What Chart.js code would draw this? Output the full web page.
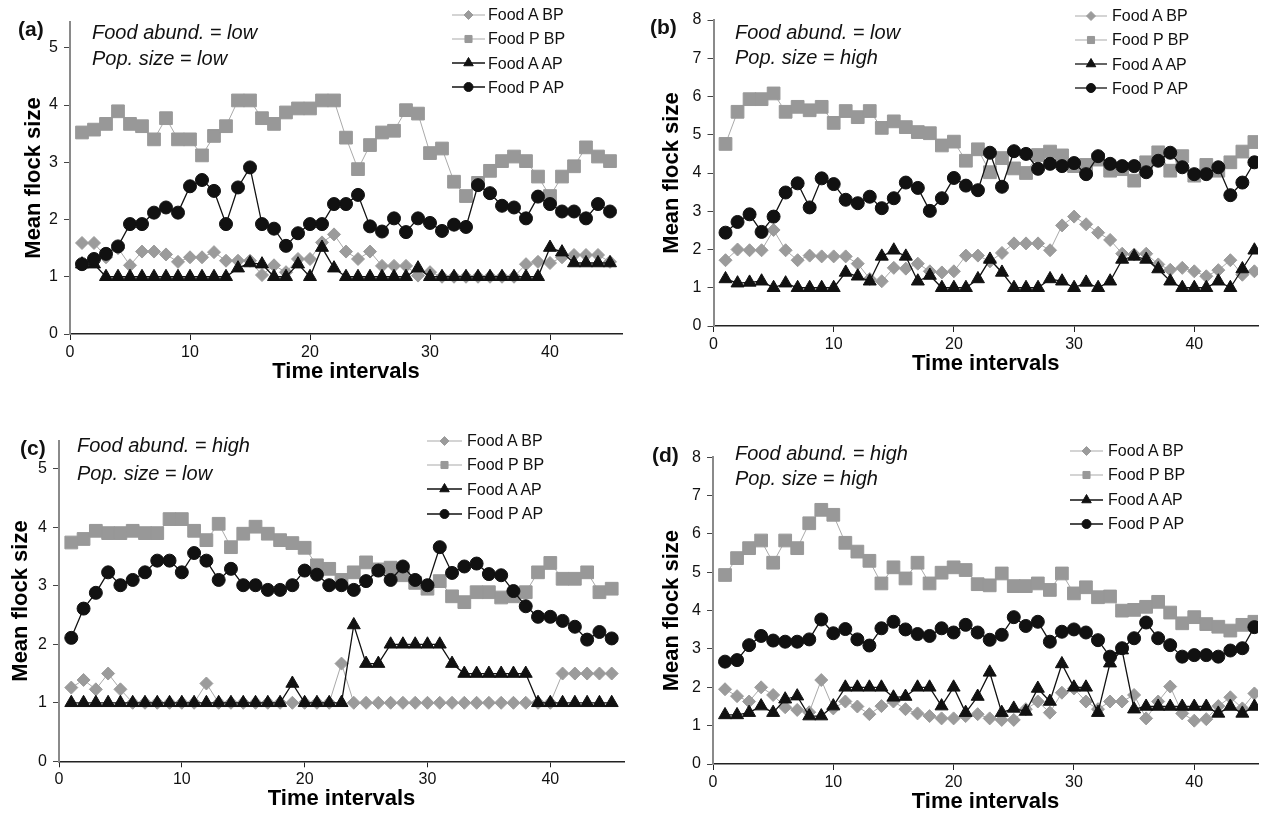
<!DOCTYPE html>
<html>
<head>
<meta charset="utf-8">
<script src="https://cdn.jsdelivr.net/npm/chart.js@4.4.1/dist/chart.umd.min.js"></script>
<style>
  body { margin: 0; background: #fff; width: 1268px; height: 817px; position: relative; overflow: hidden;
         font-family: "Liberation Sans", Arial, sans-serif; color: #111; }
  canvas { position: absolute; }
  .lab { position: absolute; font-weight: bold; font-size: 21px; line-height: 24px; }
  .note { position: absolute; font-style: italic; font-size: 20px; white-space: nowrap; }
  .leg { position: absolute; font-size: 16px; line-height: 24.3px; white-space: nowrap; }
</style>
</head>
<body>
<canvas id="ca" width="634" height="408" style="left:0;top:0"></canvas>
<canvas id="cb" width="634" height="408" style="left:634px;top:0"></canvas>
<canvas id="cc" width="634" height="409" style="left:0;top:408px"></canvas>
<canvas id="cd" width="634" height="409" style="left:634px;top:408px"></canvas>

<div class="lab" style="left:18px;top:17px">(a)</div>
<div class="note" style="left:92px;top:19px;line-height:26px">Food abund. = low<br>Pop. size = low</div>
<div class="leg" style="left:488px;top:3px">Food A BP<br>Food P BP<br>Food A AP<br>Food P AP</div>

<div class="lab" style="left:650px;top:15px">(b)</div>
<div class="note" style="left:735px;top:19.5px;line-height:25px">Food abund. = low<br>Pop. size = high</div>
<div class="leg" style="left:1112px;top:4px">Food A BP<br>Food P BP<br>Food A AP<br>Food P AP</div>

<div class="lab" style="left:20px;top:436px">(c)</div>
<div class="note" style="left:77px;top:431px;line-height:28px">Food abund. = high<br>Pop. size = low</div>
<div class="leg" style="left:467px;top:429px">Food A BP<br>Food P BP<br>Food A AP<br>Food P AP</div>

<div class="lab" style="left:652px;top:443px">(d)</div>
<div class="note" style="left:735px;top:440.5px;line-height:25px">Food abund. = high<br>Pop. size = high</div>
<div class="leg" style="left:1108px;top:439px">Food A BP<br>Food P BP<br>Food A AP<br>Food P AP</div>

<script>
// time intervals 1..45
const intervals = Array.from({length: 45}, (_, i) => i + 1);
const seriesNames = ['Food A BP', 'Food P BP', 'Food A AP', 'Food P AP'];

// (a) food abund. low, pop. size low
const aFoodABP = [1.59,1.59,1.34,1.5,1.2,1.44,1.44,1.39,1.26,1.34, 1.34,1.43,1.28,1.28,1.28,1.03,1.2,1.08,1.31,1.31,
                  1.6,1.74,1.44,1.31,1.44,1.19,1.19,1.19,1.02,1.08, 1,1,1,1,1,1,1,1.22,1.26,1.24, 1.34,1.38,1.38,1.38,1.26];
const aFoodPBP = [3.52,3.57,3.67,3.89,3.67,3.63,3.4,3.77,3.4,3.4, 3.12,3.46,3.63,4.08,4.08,3.77,3.67,3.87,3.94,3.94,
                  4.08,4.08,3.43,2.88,3.3,3.52,3.55,3.91,3.85,3.16, 3.24,2.66,2.41,2.64,2.85,3.02,3.1,3.02,2.75,2.41, 2.75,2.93,3.26,3.1,3.02];
const aFoodAAP = [1.22,1.22,1,1,1,1,1,1,1,1, 1,1,1,1.15,1.24,1.22,1,1,1.22,1,
                  1.51,1.15,1,1,1,1,1,1,1.15,1, 1,1,1,1,1,1,1,1,1,1.51, 1.43,1.24,1.24,1.24,1.24];
const aFoodPAP = [1.22,1.31,1.4,1.53,1.92,1.92,2.12,2.21,2.12,2.58, 2.69,2.5,1.92,2.56,2.91,1.92,1.84,1.54,1.76,1.92,
                  1.92,2.27,2.27,2.43,1.88,1.79,2.02,1.78,2.02,1.94, 1.8,1.91,1.87,2.6,2.46,2.24,2.21,2.02,2.4,2.27, 2.14,2.14,2.02,2.27,2.14];

// (b) food abund. low, pop. size high
const bFoodABP = [1.72,2,1.98,1.98,2.51,1.98,1.72,1.84,1.82,1.82, 1.82,1.63,1.23,1.17,1.52,1.5,1.63,1.43,1.4,1.43,
                  1.84,1.84,1.69,1.91,2.16,2.16,2.16,1.98,2.63,2.86, 2.66,2.44,2.25,1.89,1.87,1.89,1.61,1.47,1.52,1.43, 1.3,1.46,1.72,1.34,1.43];
const bFoodPBP = [4.76,5.6,5.93,5.93,6.08,5.6,5.73,5.64,5.73,5.31, 5.62,5.46,5.62,5.18,5.35,5.2,5.07,5.04,4.72,4.82,
                  4.32,4.62,4.02,4.39,4.12,4,4.47,4.56,4.46,4.18, 4.21,4.35,4.06,4.1,3.8,4.28,4.54,4.06,4.44,3.93, 4.21,4.06,4.28,4.56,4.81];
const bFoodAAP = [1.23,1.12,1.14,1.17,1,1.12,1,1,1,1, 1.4,1.3,1.17,1.82,1.98,1.82,1.17,1.32,1,1,
                  1,1.23,1.74,1.4,1,1,1,1.23,1.17,1, 1.14,1,1.17,1.74,1.82,1.74,1.49,1.17,1,1, 1,1.17,1,1.49,1.98];
const bFoodPAP = [2.44,2.72,2.92,2.46,2.86,3.49,3.73,3.1,3.86,3.71, 3.3,3.21,3.38,3.08,3.34,3.75,3.61,3.01,3.34,3.87,
                  3.67,3.55,4.53,3.64,4.57,4.5,4.11,4.24,4.18,4.26, 3.97,4.44,4.24,4.18,4.18,4.02,4.32,4.53,4.15,3.97, 3.97,4.15,3.42,3.75,4.28];

// (c) food abund. high, pop. size low
const cFoodABP = [1.26,1.39,1.23,1.5,1.23,1,1,1,1,1, 1,1.33,1,1,1,1,1,1,1,1,
                  1,1,1.67,1,1,1,1,1,1,1, 1,1,1,1,1,1,1,1,1,1, 1.5,1.5,1.5,1.5,1.5];
const cFoodPBP = [3.74,3.8,3.94,3.9,3.9,3.94,3.9,3.9,4.14,4.14, 3.94,3.78,4.06,3.66,3.89,4.01,3.89,3.78,3.73,3.65,
                  3.35,3.29,3.1,3.23,3.4,3.28,3.31,3.18,3.05,2.95, 3.08,2.82,2.72,2.89,2.89,2.8,2.82,2.89,3.23,3.39, 3.12,3.12,3.23,2.89,2.95];
const cFoodAAP = [1,1,1,1,1,1,1,1,1,1, 1,1,1,1,1,1,1,1,1.33,1,
                  1,1,1,2.33,1.67,1.67,2,2,2,2, 2,1.67,1.5,1.5,1.5,1.5,1.5,1.5,1,1, 1,1,1,1,1];
const cFoodPAP = [2.11,2.61,2.88,3.23,3.01,3.1,3.23,3.43,3.43,3.23, 3.56,3.43,3.1,3.29,3.01,3.01,2.93,2.93,3.01,3.26,
                  3.19,3.01,3.01,2.93,3.08,3.26,3.1,3.33,3.1,3.01, 3.66,3.22,3.33,3.38,3.2,3.18,2.91,2.65,2.47,2.47, 2.4,2.3,2.08,2.21,2.1];

// (d) food abund. high, pop. size high
const dFoodABP = [1.95,1.77,1.63,2,1.8,1.48,1.41,1.35,2.19,1.45, 1.63,1.5,1.3,1.51,1.63,1.43,1.32,1.25,1.19,1.19,
                  1.25,1.3,1.19,1.15,1.15,1.43,1.63,1.34,1.86,1.97, 1.63,1.43,1.63,1.63,1.8,1.19,1.63,2.02,1.32,1.13, 1.17,1.51,1.74,1.45,1.84];
const dFoodPBP = [4.93,5.37,5.63,5.83,5.25,5.83,5.63,6.28,6.63,6.5, 5.77,5.54,5.3,4.71,5.13,4.84,5.25,4.71,4.99,5.13,
                  5.06,4.69,4.66,4.97,4.64,4.64,4.71,4.54,4.97,4.45, 4.61,4.35,4.37,4,4.02,4.1,4.23,3.95,3.67,3.83, 3.65,3.58,3.48,3.63,3.71];
const dFoodAAP = [1.28,1.28,1.34,1.51,1.34,1.69,1.77,1.25,1.25,1.51, 2,2,2,2,1.74,1.76,2,2,1.51,2,
                  1.34,1.76,2.39,1.34,1.45,1.37,1.97,1.63,2.61,2, 2,1.34,2.63,2.97,1.43,1.5,1.5,1.5,1.5,1.5, 1.5,1.32,1.5,1.32,1.5];
const dFoodPAP = [2.67,2.71,3.1,3.34,3.22,3.19,3.19,3.25,3.77,3.41, 3.52,3.25,3.09,3.54,3.71,3.51,3.39,3.34,3.54,3.43,
                  3.63,3.43,3.24,3.37,3.83,3.6,3.71,3.19,3.45,3.51, 3.43,3.23,2.8,3.02,3.28,3.69,3.28,3.1,2.8,2.84, 2.84,2.8,2.96,3.02,3.57];

const xTickValues = [0, 10, 20, 30, 40];
const yTicksLow = [0, 1, 2, 3, 4, 5];
const yTicksHigh = [0, 1, 2, 3, 4, 5, 6, 7, 8];

// marker look for each series, Excel-ish
const looks = [
  {style: 'rectRot', r: 6.5, fill: '#9b9b9b', line: '#a9a9a9', lw: 1, order: 4, lr: 4.5},
  {style: 'rect', r: 9, fill: '#989898', line: '#a9a9a9', lw: 1, order: 3, lr: 5},
  {style: 'triangle', r: 7.5, fill: '#111', line: '#111', lw: 1.3, order: 2, lr: 5.5},
  {style: 'circle', r: 6.5, fill: '#111', line: '#111', lw: 1.3, order: 1, lr: 4.5},
];

const legendSamples = {
  id: 'legendSamples',
  afterDraw(chart, args, opts) {
    const ctx = chart.ctx;
    opts.rows.forEach((y, i) => {
      const s = looks[i];
      ctx.save();
      ctx.strokeStyle = s.line;
      ctx.lineWidth = s.lw;
      ctx.beginPath();
      ctx.moveTo(opts.x0, y);
      ctx.lineTo(opts.x1, y);
      ctx.stroke();
      ctx.fillStyle = s.fill;
      ctx.strokeStyle = s.fill;
      ctx.lineWidth = 1;
      Chart.helpers.drawPoint(ctx, {pointStyle: s.style, radius: s.lr, rotation: 0, borderWidth: 1}, (opts.x0 + opts.x1) / 2, y);
      ctx.restore();
    });
  }
};

function makePanel(id, p, series) {
  const datasets = series.map((vals, i) => ({
    label: seriesNames[i],
    data: intervals.map((x, k) => ({x: x, y: vals[k]})),
    borderColor: looks[i].line,
    borderWidth: looks[i].lw,
    pointStyle: looks[i].style,
    pointRadius: looks[i].r,
    pointBackgroundColor: looks[i].fill,
    pointBorderColor: looks[i].fill,
    pointBorderWidth: 1,
    tension: 0,
    order: looks[i].order,
  }));

  return new Chart(document.getElementById(id), {
    type: 'line',
    data: {datasets},
    plugins: [legendSamples],
    options: {
      responsive: false,
      animation: false,
      events: [],
      layout: {padding: {left: 0, top: p.padT, right: p.padR, bottom: 0}},
      plugins: {
        legend: {display: false},
        tooltip: {enabled: false},
        legendSamples: p.legend,
      },
      scales: {
        x: {
          type: 'linear',
          min: 0,
          max: p.xMax,
          afterBuildTicks: s => { s.ticks = xTickValues.map(v => ({value: v})); },
          afterFit: s => { s.height = p.xh; },
          border: {display: true, color: '#222', width: 1.5},
          grid: {drawOnChartArea: false, drawTicks: true, tickLength: 6, color: '#222'},
          ticks: {color: '#111', padding: 3, maxRotation: 0, font: {family: 'Liberation Sans', size: 16}},
          title: {display: true, text: 'Time intervals', color: '#000',
                  font: {family: 'Liberation Sans', size: 22, weight: 'bold'}, padding: {top: 0, bottom: p.xTitlePad}},
        },
        y: {
          type: 'linear',
          min: 0,
          max: p.yMax,
          afterBuildTicks: s => { s.ticks = p.yTicks.map(v => ({value: v})); },
          afterFit: s => { s.width = p.yw; },
          border: {display: true, color: '#8a8a8a', width: 2},
          grid: {drawOnChartArea: false, drawTicks: true, tickLength: 6, color: '#444'},
          ticks: {color: '#111', padding: 6, font: {family: 'Liberation Sans', size: 16}},
          title: {display: true, text: 'Mean flock size', color: '#000',
                  font: {family: 'Liberation Sans', size: 22, weight: 'bold'}, padding: {top: p.yTitlePad, bottom: 0}},
        }
      }
    }
  });
}

makePanel('ca', {padT: 22, padR: 12, yw: 70, xh: 74, xMax: 46, yMax: 5.45, yTicks: yTicksLow,
                 yTitlePad: 20.8, xTitlePad: 22.8, legend: {x0: 452, x1: 485, rows: [15, 39, 63, 87]}},
          [aFoodABP, aFoodPBP, aFoodAAP, aFoodPAP]);
makePanel('cb', {padT: 20, padR: 6, yw: 79.5, xh: 82, xMax: 45.3, yMax: 8, yTicks: yTicksHigh,
                 yTitlePad: 24.8, xTitlePad: 30.8, legend: {x0: 441, x1: 473, rows: [16, 40, 64, 88]}},
          [bFoodABP, bFoodPBP, bFoodAAP, bFoodPAP]);
makePanel('cc', {padT: 32.7, padR: 9, yw: 59, xh: 55.7, xMax: 46, yMax: 5.48, yTicks: yTicksLow,
                 yTitlePad: 7.8, xTitlePad: 4.8, legend: {x0: 427, x1: 462, rows: [33, 57, 81, 106]}},
          [cFoodABP, cFoodPBP, cFoodAAP, cFoodPAP]);
makePanel('cd', {padT: 49.3, padR: 6, yw: 79, xh: 53, xMax: 45.3, yMax: 8, yTicks: yTicksHigh,
                 yTitlePad: 24.8, xTitlePad: 1.8, legend: {x0: 436, x1: 469, rows: [43, 67, 92, 116]}},
          [dFoodABP, dFoodPBP, dFoodAAP, dFoodPAP]);
</script>
</body>
</html>
